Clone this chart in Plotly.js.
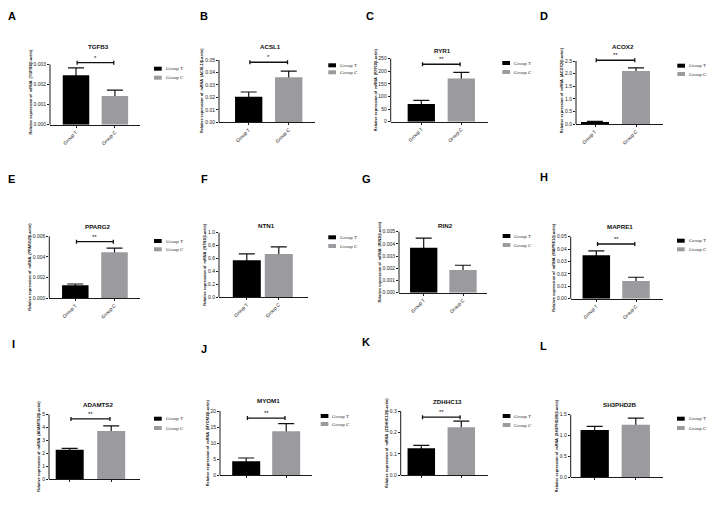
<!DOCTYPE html>
<html><head><meta charset="utf-8">
<script src="https://cdn.plot.ly/plotly-3.0.1.min.js"></script>
<style>html,body{margin:0;padding:0;background:#fff}#chart{width:718px;height:509px}</style>
</head><body><div id="chart"></div>
<script>
// ---------- data ----------
const panelLetters = ['A','B','C','D','E','F','G','H','I','J','K','L'];
const genes = ['TGFB3','ACSL1','RYR1','ACOX2','PPARG2','NTN1','RIN2','MAPRE1','ADAMTS2','MYOM1','ZDHHC13','SH3PHD2B'];
const groups = ['Group T','Group C'];
const meanT = [0.00245,0.0205,70,0.08,0.00123,0.57,0.00368,0.035,2.26,4.35,0.126,1.133];
const semT  = [0.00037,0.0038,15,0.025,0.00013,0.10,0.0008,0.0035,0.11,1.03,0.014,0.089];
const meanC = [0.00143,0.0362,171,2.10,0.00444,0.67,0.00186,0.0143,3.71,13.7,0.224,1.26];
const semC  = [0.00029,0.0048,25,0.13,0.00041,0.11,0.00039,0.003,0.39,2.35,0.029,0.16];
const significance = ['*','*','**','**','**','','','**','**','**','**',''];
const bracketY = [0.00308,0.0482,228,2.53,0.00548,null,null,0.0441,4.64,17.8,0.271,null];
const axisTop  = [0.003,0.05,250,2.5,0.006,1.0,0.005,0.05,5,20,0.3,1.5];
const tickStep = [0.001,0.01,50,0.5,0.002,0.2,0.001,0.01,1,5,0.1,0.5];
const tickFormat = ['.3f','.2f','d','.1f','.3f','.1f','.3f','.2f','d','d','.1f','.1f'];

// ---------- layout geometry (pixels) ----------
// axL, axR, y0, yTop, cT, cC, bw, titleY, letX, letY, legX, legY1, legY2
const geomRows = [
 [50,140,124.7,64.3,76,114.9,26.5,46,11.5,16,154,68.7,77.7],
 [219,315,122.3,60,248.7,288.7,27.3,46.7,204,16,328.3,65.3,72.3],
 [390.7,487.7,121.7,58.7,421.3,461.3,27.3,50,369.5,16,502.3,63,72],
 [576,663,124,61,595,636,28,46,543.5,16,677.3,65.7,74],
 [49.3,140,298,236.3,75.3,114.5,26.5,226.7,11.5,178.5,154,241,249.3],
 [219,308,297,232.7,246.8,278.8,28,225.3,204,178.5,328.3,237.3,246],
 [399,487,292.7,231.7,423.7,463,27.3,225.7,366,178.5,502.7,236,245],
 [570.7,663,298.7,236.7,596.3,636,27.5,226.7,543.5,176.5,677,240.7,249.3],
 [49,140,479,414.3,69.7,111.2,28,404,13.5,343.5,154,418.7,428],
 [220,311.7,475.3,411,246.2,286.2,28,400.7,204,348.5,320.7,416,424],
 [400.7,488,475.3,411,421.3,461.3,27.5,401,366,341.5,502.7,416,425],
 [570.7,663,477.3,414.7,594.7,635.8,28.3,404,543.5,345.5,677,418.7,428]
];
const W = 718, H = 509;
const px = x => x / W, py = y => 1 - y / H;
const SANS = 'Liberation Sans, Arial, sans-serif';
const SERIF = 'Liberation Serif, Times New Roman, serif';
const colT = '#000000', colC = '#9b9b9f', axCol = '#1a1a1a';

const data = [], shapes = [], annotations = [];
const layout = {
  width: W, height: H, margin: {l:0,r:0,t:0,b:0}, autosize: false,
  paper_bgcolor: '#fff', plot_bgcolor: 'rgba(0,0,0,0)',
  showlegend: false, barmode: 'overlay',
  font: {family: SANS, color: '#111'}
};

genes.forEach((gene, i) => {
  const [axL, axR, y0, yTop, cT, cC, bwPx, titleY, letX, letY, legX, legY1, legY2] = geomRows[i];
  const n = i + 1, sfx = n === 1 ? '' : String(n);
  const xa = 'x' + sfx, ya = 'y' + sfx;
  const unit = axisTop[i] / (y0 - yTop);
  let domTop = yTop;
  if (bracketY[i] != null) domTop = Math.min(domTop, y0 - bracketY[i] / unit - 3);
  const rangeTop = (y0 - domTop) * unit;
  const sp = cC - cT;
  const bw = bwPx / sp;
  const means = [meanT[i], meanC[i]], sems = [semT[i], semC[i]], cols = [colT, colC];

  // error bars (drawn under bars so only the upper half shows)
  groups.forEach((g, k) => {
    data.push({type:'bar', x:[g], y:[means[k]], width:[bw], xaxis:xa, yaxis:ya,
      marker:{color:'rgba(0,0,0,0)'}, hoverinfo:'skip', showlegend:false,
      error_y:{type:'data', array:[sems[k]], visible:true, color:'#111', thickness:1.2, width:8}});
  });
  groups.forEach((g, k) => {
    data.push({type:'bar', x:[g], y:[means[k]], width:[bw], xaxis:xa, yaxis:ya, name:g,
      marker:{color:cols[k], line:{width:0}}, showlegend:false});
  });

  layout['xaxis' + sfx] = {
    domain:[px(axL), px(axR)], anchor: ya, type:'category',
    categoryorder:'array', categoryarray: groups,
    range:[(axL - cT) / sp, (axR - cT) / sp],
    showline:true, linecolor:axCol, linewidth:1, mirror:false,
    ticks:'outside', ticklen:2, tickcolor:axCol, tickwidth:1,
    tickangle:-45, tickfont:{family:SANS, size:4.8, color:'#222'},
    showticklabels: i < 8, showgrid:false, zeroline:false, fixedrange:true
  };
  layout['yaxis' + sfx] = {
    domain:[py(y0), py(domTop)], anchor: xa,
    range:[0, rangeTop], tick0:0, dtick:tickStep[i], tickformat:tickFormat[i],
    showline:false, ticks:'outside', ticklen:2, tickcolor:axCol, tickwidth:1,
    tickfont:{family:SANS, size:5, color:'#222'},
    showgrid:false, zeroline:false, fixedrange:true,
    title:{text:'Relative expression of  mRNA  (' + gene + '/β-actin)',
      font:{family:SANS, size:3.8, color:'#111', weight:'bold'}, standoff:1}
  };
  // y axis line ending at top tick
  shapes.push({type:'line', xref:xa + ' domain', yref:ya + ' domain', x0:0, x1:0,
    y0:0, y1:axisTop[i] / rangeTop, line:{color:axCol, width:1}});

  // significance bracket
  if (bracketY[i] != null) {
    const b = bracketY[i], h = 2 * unit;
    shapes.push({type:'line', xref:xa, yref:ya, x0:0.03, x1:0.97, y0:b, y1:b, line:{color:'#111', width:1.3}});
    shapes.push({type:'line', xref:xa, yref:ya, x0:0.03, x1:0.03, y0:b - h, y1:b + h, line:{color:'#111', width:1.3}});
    shapes.push({type:'line', xref:xa, yref:ya, x0:0.97, x1:0.97, y0:b - h, y1:b + h, line:{color:'#111', width:1.3}});
    annotations.push({xref:xa, yref:ya, x:0.5, y:b, text:significance[i], showarrow:false,
      yanchor:'bottom', yshift:0, font:{family:SANS, size:6, color:'#111'}});
  }

  // panel title
  annotations.push({xref:'paper', yref:'paper', x:px((axL + axR) / 2 + 3), y:py(titleY),
    text:gene, showarrow:false, xanchor:'center', yanchor:'middle',
    font:{family:SANS, size:6.2, color:'#111', weight:'bold'}});
  // panel letter
  annotations.push({xref:'paper', yref:'paper', x:px(letX), y:py(letY),
    text:panelLetters[i], showarrow:false, xanchor:'center', yanchor:'middle',
    font:{family:SANS, size:11, color:'#000', weight:'bold'}});
  // legend
  [legY1, legY2].forEach((ly, k) => {
    shapes.push({type:'rect', xref:'paper', yref:'paper', x0:px(legX), x1:px(legX + 7.7),
      y0:py(ly + 2), y1:py(ly - 2), fillcolor:cols[k], line:{width:0}});
    annotations.push({xref:'paper', yref:'paper', x:px(legX + 9.5), y:py(ly),
      text:groups[k], showarrow:false, xanchor:'left', yanchor:'middle',
      font:{family:SERIF, size:5, color:'#333'}});
  });
});

layout.shapes = shapes;
layout.annotations = annotations;
Plotly.newPlot('chart', data, layout, {displayModeBar:false, staticPlot:true});
</script>
</body></html>
